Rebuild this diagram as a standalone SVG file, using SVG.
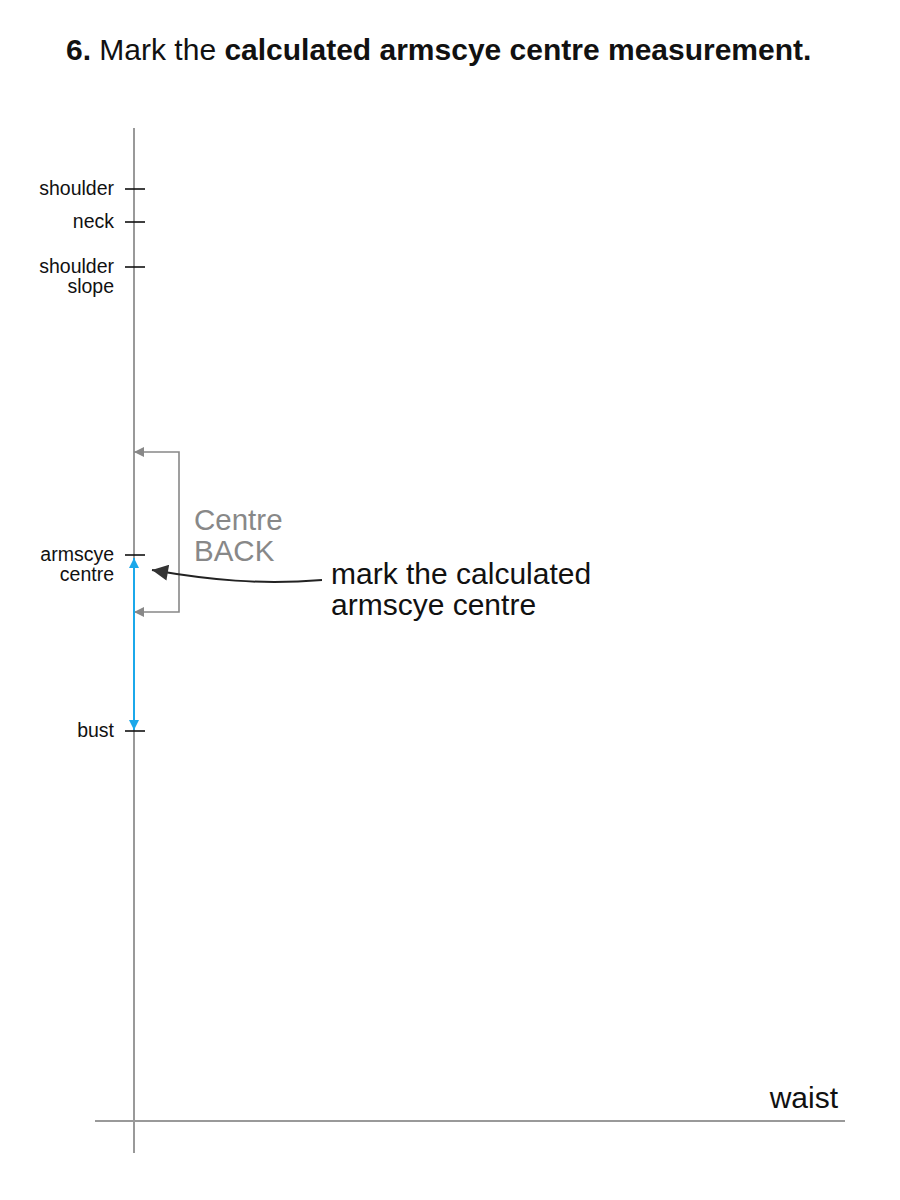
<svg xmlns="http://www.w3.org/2000/svg" width="900" height="1200" viewBox="0 0 900 1200">
<style>
text{font-family:"Liberation Sans",Arial,sans-serif}
.lbl{font-size:19.5px;fill:#111;text-anchor:end}
.axis{stroke:#999;stroke-width:2;fill:none}
.tick{stroke:#111;stroke-width:1.6}
.grey{stroke:#888;stroke-width:1.6;fill:none}
</style>
<defs>
<marker id="ga" viewBox="0 0 10 10" refX="10" refY="5" markerWidth="12" markerHeight="10" markerUnits="userSpaceOnUse" orient="auto-start-reverse"><path d="M0,0 L10,5 L0,10 Z" fill="#888"/></marker>
<marker id="ba" viewBox="0 0 10 10" refX="10" refY="5" markerWidth="16" markerHeight="10" markerUnits="userSpaceOnUse" orient="auto"><path d="M0,0 L10,5 L0,10 Z" fill="#1ba8ea"/></marker>
<marker id="ka" viewBox="0 0 10 10" refX="10" refY="5" markerWidth="18" markerHeight="16" markerUnits="userSpaceOnUse" orient="auto"><path d="M0,0 L10,5 L0,10 Z" fill="#333"/></marker>
</defs>
<rect width="900" height="1200" fill="#fff"/>
<text x="66" y="60" font-size="30" fill="#111"><tspan font-weight="bold">6.</tspan> Mark the <tspan font-weight="bold">calculated armscye centre measurement.</tspan></text>
<g id="axes">
<line class="axis" x1="134" y1="128" x2="134" y2="1153"/>
<line class="axis" x1="95" y1="1121" x2="845" y2="1121"/>
</g>
<g id="waist"><text x="838" y="1108" font-size="30" fill="#111" text-anchor="end">waist</text></g>
<g id="shoulder"><line class="tick" x1="125" y1="189" x2="145" y2="189"/><text class="lbl" x="114" y="195">shoulder</text></g>
<g id="neck"><line class="tick" x1="125" y1="222" x2="145" y2="222"/><text class="lbl" x="114" y="228">neck</text></g>
<g id="shoulder-slope"><line class="tick" x1="125" y1="267" x2="145" y2="267"/><text class="lbl" x="114" y="273">shoulder</text><text class="lbl" x="114" y="293">slope</text></g>
<g id="armscye-centre"><line class="tick" x1="125" y1="555" x2="145" y2="555"/><text class="lbl" x="114" y="561">armscye</text><text class="lbl" x="114" y="581">centre</text></g>
<g id="bust"><line class="tick" x1="125" y1="731" x2="145" y2="731"/><text class="lbl" x="114" y="737">bust</text></g>
<g id="centre-back"><text x="194" y="530" font-size="29.5" fill="#888">Centre</text><text x="194" y="561" font-size="29.5" fill="#888">BACK</text></g>
<g id="note"><text x="331" y="584" font-size="30" fill="#111">mark the calculated</text><text x="331" y="615" font-size="30" fill="#111">armscye centre</text></g>
<g id="connectors">
<path class="grey" d="M134,452 H179 V612 H134" marker-start="url(#ga)" marker-end="url(#ga)"/>
<line x1="134" y1="570" x2="134" y2="718" stroke="#1ba8ea" stroke-width="2"/>
<line x1="134" y1="575" x2="134" y2="558" stroke="#1ba8ea" stroke-width="2" marker-end="url(#ba)"/>
<line x1="134" y1="715" x2="134" y2="730" stroke="#1ba8ea" stroke-width="2" marker-end="url(#ba)"/>
<path d="M322,580 C260,585 210,580 152,570" fill="none" stroke="#222" stroke-width="2" marker-end="url(#ka)"/>
</g>
</svg>
